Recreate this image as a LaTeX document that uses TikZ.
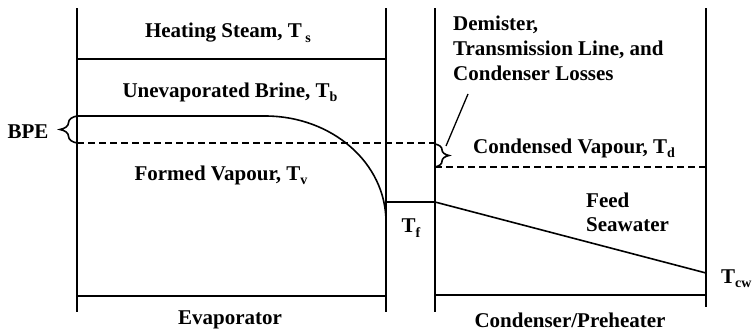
\documentclass[tikz,border=0pt]{standalone}
\usepackage{fontspec}
\setmainfont{Liberation Serif}
\usetikzlibrary{decorations.pathreplacing}
\newcommand{\mysub}[1]{\raisebox{-0.45ex}{\fontsize{14}{15}\selectfont #1}}
\tikzset{
  lbl/.style={font=\fontsize{21}{24}\selectfont\bfseries, inner sep=0pt},
  wall/.style={line width=1.6pt},
  dash7/.style={line width=1.6pt, dash pattern=on 7pt off 4pt},
  brc/.style={line width=1.6pt, decorate, decoration={brace, amplitude=#1}}
}
\begin{document}
\begin{tikzpicture}[x=1pt, y=-1pt]
\useasboundingbox (0,0) rectangle (752,332);
% coordinates
\coordinate (eTL) at (77,8);
\coordinate (eBL) at (77,312);
\coordinate (eTR) at (386,8);
\coordinate (eBR) at (386,312);
\coordinate (cTL) at (435,8);
\coordinate (cBL) at (435,312);
\coordinate (cTR) at (706,8);
\coordinate (cBR) at (706,307);
\coordinate (hsL) at (77,59);
\coordinate (hsR) at (386,59);
\coordinate (bL) at (77,116);
\coordinate (bK) at (265,116);
\coordinate (bE) at (386,222);
\coordinate (dL) at (77,143);
\coordinate (dR) at (435,143);
\coordinate (tfL) at (386,202);
\coordinate (tfR) at (435,202);
\coordinate (cdL) at (435,167);
\coordinate (cdR) at (706,167);
\coordinate (fwE) at (706,273);
\coordinate (ebL) at (77,296);
\coordinate (ebR) at (386,296);
\coordinate (cbL) at (435,295);
\coordinate (cbR) at (706,295);
% walls
\draw[wall] (eTL) -- (eBL);
\draw[wall] (eTR) -- (eBR);
\draw[wall] (cTL) -- (cBL);
\draw[wall] (cTR) -- (cBR);
\draw[wall] (hsL) -- (hsR);
\draw[wall] (ebL) -- (ebR);
\draw[wall] (cbL) -- (cbR);
% brine curve
\draw[wall] (bL) -- (bK) .. controls (332,116) and (386,163) .. (bE);
\draw[dash7] (dL) -- (dR);
\draw[dash7] (cdL) -- (cdR);
\draw[wall] (tfL) -- (tfR) -- (fwE);
% braces
\draw[brc=17pt] (77,143) -- (77,116);
\draw[brc=14pt] (435,144) -- (435,167);
\coordinate (lossA) at (446,146);
\coordinate (lossB) at (468,94);
\draw[line width=1.3pt] (lossA) -- (lossB);
% labels
\node[lbl] (hs) at (228,33) {Heating Steam, T\,\mysub{s}};
\node[lbl] (ub) at (230,92) {Unevaporated Brine, T\mysub{b}};
\node[lbl] (fv) at (221,175) {Formed Vapour, T\mysub{v}};
\node[lbl] (bpe) at (28,132) {BPE};
\node[lbl] (tf) at (411,228) {T\mysub{f}};
\node[lbl, align=left, anchor=north west] (dm) at (453,16) {Demister,\\[1pt]Transmission Line, and\\[1pt]Condenser Losses};
\node[lbl] (cv) at (574,148) {Condensed Vapour, T\mysub{d}};
\node[lbl, align=left, anchor=west] (fs) at (586,212) {Feed\\Seawater};
\node[lbl, anchor=west] (tcw) at (721,279) {T\mysub{cw}};
\node[lbl] (ev) at (230,320) {Evaporator};
\node[lbl] (cp) at (570,320) {Condenser/Preheater};
\end{tikzpicture}
\end{document}
